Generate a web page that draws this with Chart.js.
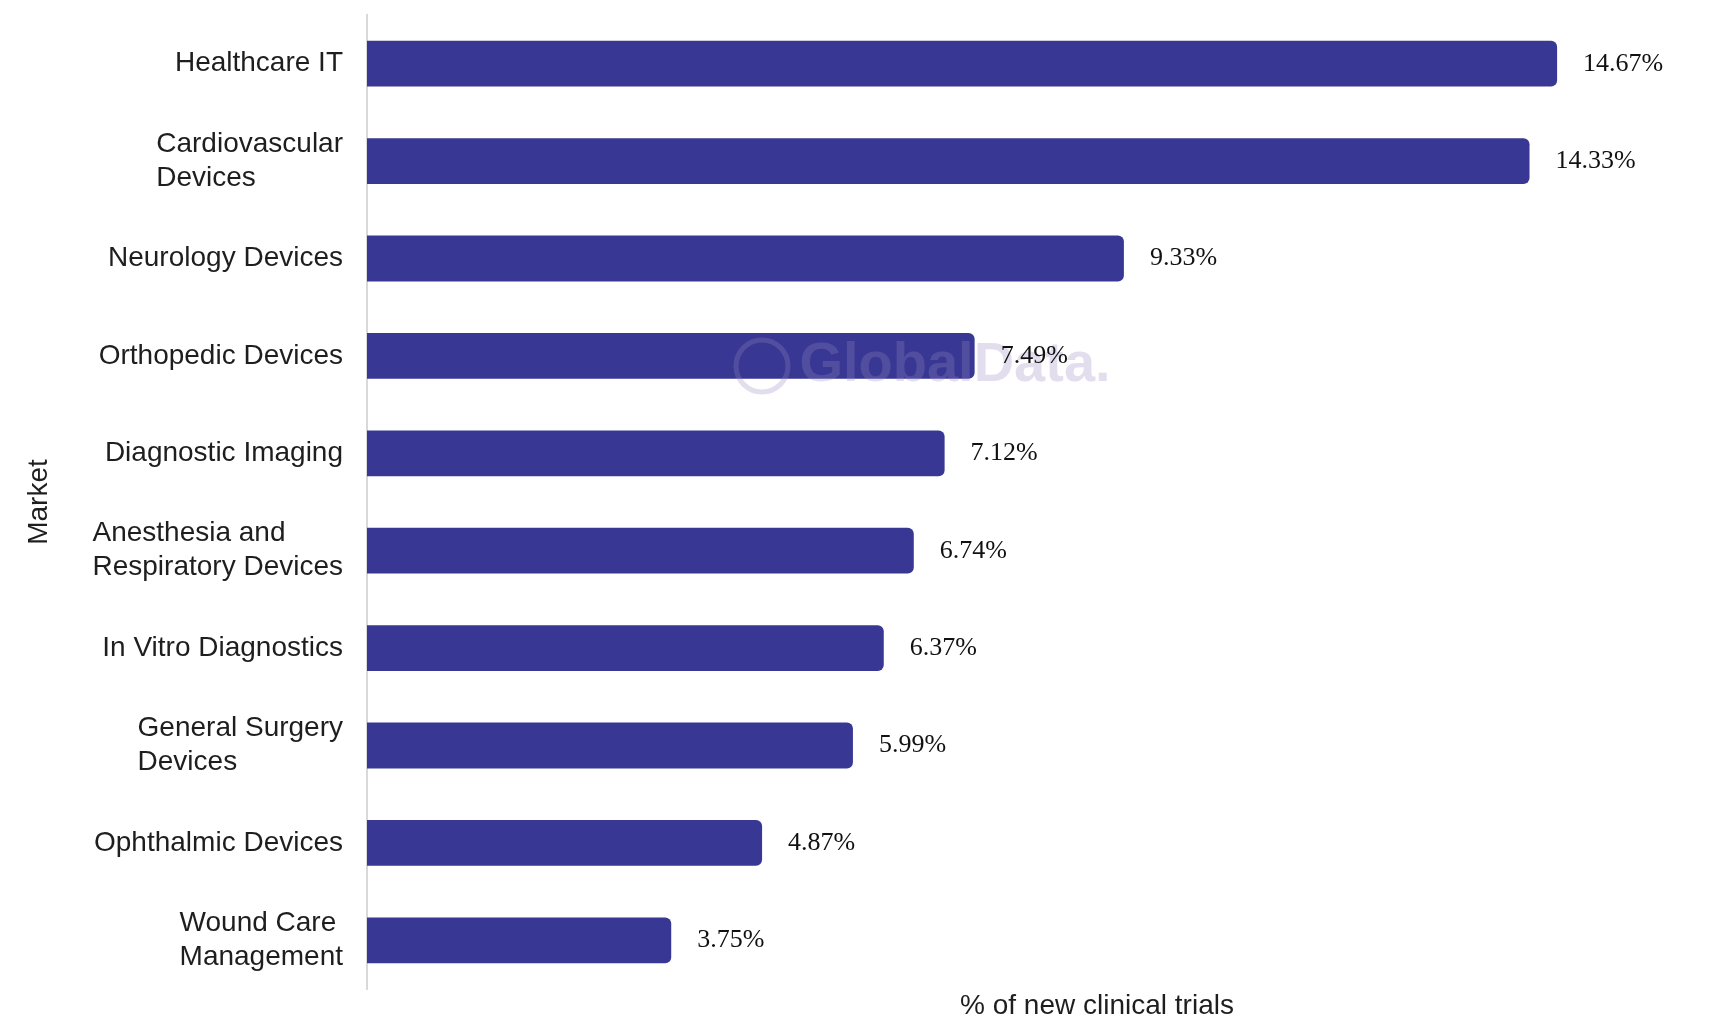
<!DOCTYPE html>
<html>
<head>
<meta charset="utf-8">
<script src="https://cdn.jsdelivr.net/npm/chart.js@4.4.1/dist/chart.umd.min.js"></script>
<style>
  body { margin: 0; background: #ffffff; }
  .wrap { width: 1711px; height: 1024px; position: relative; }
</style>
</head>
<body>
<div class="wrap"><canvas id="marketChart"></canvas></div>
<script>
const markets = [
  ["Healthcare IT"],
  ["Cardiovascular", "Devices"],
  ["Neurology Devices"],
  ["Orthopedic Devices"],
  ["Diagnostic Imaging"],
  ["Anesthesia and", "Respiratory Devices"],
  ["In Vitro Diagnostics"],
  ["General Surgery", "Devices"],
  ["Ophthalmic Devices"],
  ["Wound Care", "Management"],
];
const shares = [14.67, 14.33, 9.33, 7.49, 7.12, 6.74, 6.37, 5.99, 4.87, 3.75];
const xTitle = "% of new clinical trials";
const yTitle = "Market";

// 축 라벨, 값 라벨, 워터마크
const textLayer = {
  id: "textLayer",
  afterDatasetsDraw(chart) {
    const { ctx, chartArea, scales } = chart;
    const meta = chart.getDatasetMeta(0);
    ctx.save();

    // 워터마크
    ctx.font = "600 56px 'Liberation Sans'";
    ctx.fillStyle = "rgba(150, 135, 190, 0.28)";
    ctx.textAlign = "center";
    ctx.textBaseline = "middle";
    ctx.fillText("GlobalData.", 955, 366);
    ctx.lineWidth = 5;
    ctx.strokeStyle = "rgba(150, 135, 190, 0.28)";
    ctx.beginPath();
    ctx.arc(762, 366, 26, 0, Math.PI * 2);
    ctx.stroke();

    // 카테고리 라벨
    ctx.font = "28px 'Liberation Sans'";
    ctx.fillStyle = "#1e1e1e";
    ctx.textAlign = "left";
    markets.forEach((lines, i) => {
      const w = Math.max(...lines.map((l) => ctx.measureText(l).width));
      const x = chartArea.left - 24 - w;
      const yc = scales.y.getPixelForValue(i);
      lines.forEach((line, j) => {
        ctx.fillText(line, x, yc + (j - (lines.length - 1) / 2) * 34);
      });
    });

    // 값 라벨
    ctx.font = "26px 'Liberation Serif'";
    ctx.fillStyle = "#111111";
    meta.data.forEach((bar, i) => {
      ctx.fillText(`${shares[i].toFixed(2)}%`, bar.x + 26, bar.y);
    });

    // 축 제목
    ctx.font = "28px 'Liberation Sans'";
    ctx.fillStyle = "#1e1e1e";
    ctx.textAlign = "center";
    ctx.fillText(xTitle, 1097, chartArea.bottom + 17);
    ctx.translate(39, (chartArea.top + chartArea.bottom) / 2);
    ctx.rotate(-Math.PI / 2);
    ctx.fillText(yTitle, 0, 0);
    ctx.restore();
  },
};

new Chart(document.getElementById("marketChart"), {
  type: "bar",
  data: {
    labels: markets,
    datasets: [
      {
        data: shares,
        backgroundColor: "#383894",
        borderRadius: 6,
        barPercentage: 0.47,
        categoryPercentage: 1,
      },
    ],
  },
  options: {
    indexAxis: "y",
    responsive: true,
    maintainAspectRatio: false,
    animation: false,
    layout: { padding: { left: 367, right: 46, top: 15, bottom: 35 } },
    plugins: {
      legend: { display: false },
      tooltip: { enabled: false },
    },
    scales: {
      x: { display: false, min: 0, max: 16 },
      y: {
        display: true,
        ticks: { display: false },
        grid: { display: false, drawTicks: false },
        border: { display: true, color: "#d9d9d9", width: 2 },
      },
    },
  },
  plugins: [textLayer],
});
</script>
</body>
</html>
